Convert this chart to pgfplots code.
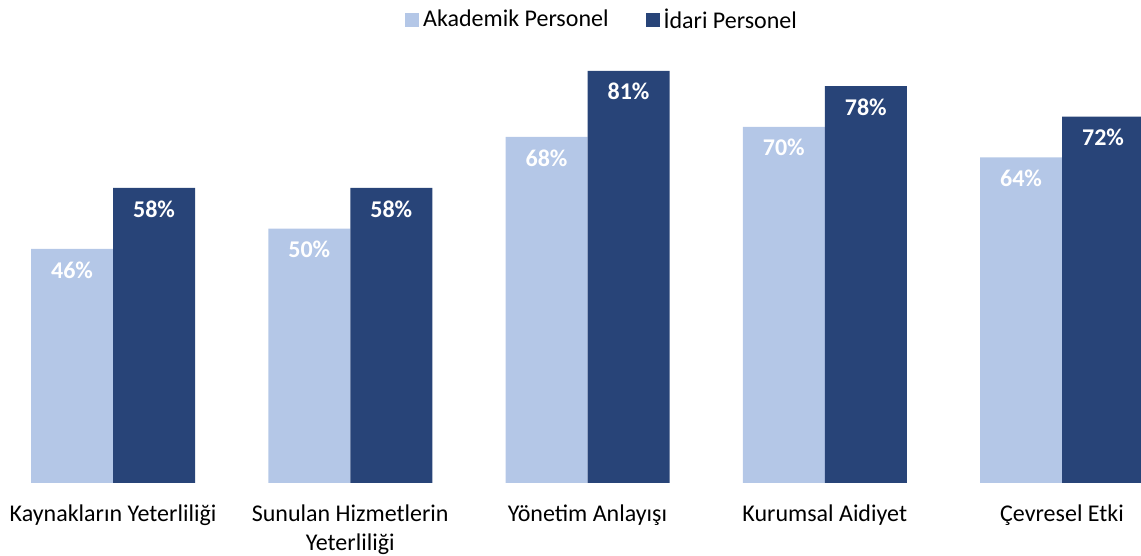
\documentclass[border=0pt]{standalone}
\usepackage{fontspec}
\setmainfont{Carlito}
\usepackage{pgfplots}
\pgfplotsset{compat=1.18}
\definecolor{lightb}{RGB}{180,199,231}
\definecolor{darkb}{RGB}{40,68,120}
\begin{document}
\fontsize{12}{15}\selectfont
\begin{tikzpicture}
\useasboundingbox (0,-36.5pt) rectangle (570.5pt,241.5pt);
\begin{axis}[
  at={(0,0)}, anchor=south west,
  scale only axis,
  width=570.5pt, height=229pt,
  xmin=-0.4763, xmax=4.3330,
  ymin=0, ymax=90,
  ybar=0pt, bar width=41pt,
  axis line style={draw=none},
  tick style={draw=none},
  clip=true,
  xtick={0,1,2,3,4},
  xticklabels={Kaynakların Yeterliliği, {Sunulan Hizmetlerin\\Yeterliliği}, Yönetim Anlayışı, Kurumsal Aidiyet, Çevresel Etki},
  xticklabel style={align=center, font=\fontsize{12}{14.5}\selectfont, yshift=-2.5pt},
  ytick=\empty,
  /pgf/number format/assume math mode=true,
  nodes near coords={\textbf{\pgfmathprintnumber{\pgfplotspointmeta}\%}},
  every node near coord/.append style={anchor=center, yshift=-10.5pt, text=white, font=\fontsize{12}{15}\selectfont\bfseries},
  legend columns=2,
  legend style={at={(0.5285,1.010)}, anchor=center, draw=none, fill=none,
    font=\fontsize{12}{15}\selectfont,
    /tikz/every even column/.append style={column sep=16.5pt},
    inner sep=0pt},
  legend image code/.code={\fill[#1,draw=none] (0pt,-3.5pt) rectangle (7pt,3.5pt);},
]
\addplot[fill=lightb, draw=none] coordinates {(0,46) (1,50) (2,68) (3,70) (4,64)};
\addplot[fill=darkb, draw=none] coordinates {(0,58) (1,58) (2,81) (3,78) (4,72)};
\legend{Akademik Personel, İdari Personel}
\end{axis}
\end{tikzpicture}
\end{document}
